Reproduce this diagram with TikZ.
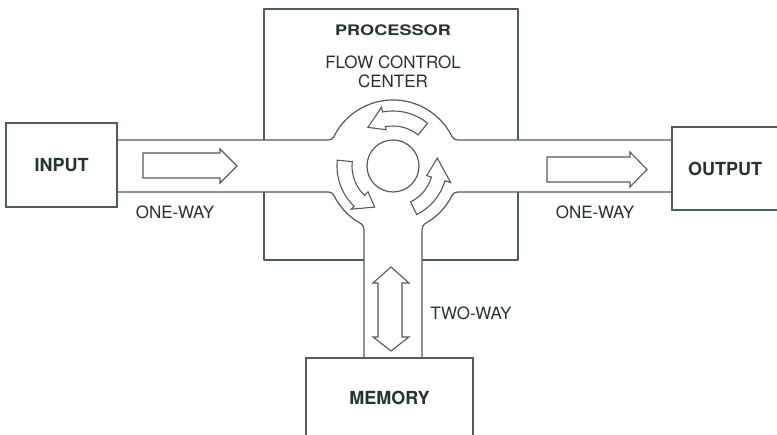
\documentclass[tikz,border=0pt]{standalone}
\usepackage{fontspec}
\setmainfont{TeX Gyre Heros}
\definecolor{ink}{RGB}{78,94,80}
\definecolor{txt}{RGB}{36,52,40}
\tikzset{
  wall/.style={draw=ink, line width=1.2pt, line join=round},
  unitbox/.style={draw=ink, line width=1.2pt, fill=none, inner sep=0pt,
    font=\fontsize{18}{20}\selectfont\bfseries, text=txt},
  lbl/.style={font=\fontsize{17}{20}\selectfont, text=txt, inner sep=0pt},
  flowarrow/.style={draw=ink, line width=1.1pt, fill=white, line join=miter},
}
\begin{document}
\begin{tikzpicture}[x=1pt,y=1pt]
\useasboundingbox (0,0) rectangle (777,435);

% units attached to the processor
\node[unitbox, minimum width=111pt, minimum height=84pt] (input) at (61.5,270) {INPUT};
\node[unitbox, minimum width=106pt, minimum height=83pt] (output) at (725,266.5) {OUTPUT};
\node[unitbox, minimum width=167pt, minimum height=79pt] (memory) at (389.5,37.5) {MEMORY};

% processor housing, open where the channels pass through
\draw[wall] (264,295) -- (264,426) -- (518,426) -- (518,295);
\draw[wall] (264,243) -- (264,175) -- (364,175);
\draw[wall] (422,175) -- (518,175) -- (518,243);

% channels and the central roundabout
\draw[wall] (input.east |- 0,295) -- (324,295) .. controls (332.3,295) .. (335.8,302)
  arc[start angle=150, end angle=30, radius=66pt]
  .. controls (453.7,295) .. (462,295) -- (output.west |- 0,295);
\draw[wall] (input.east |- 0,243) -- (324,243) .. controls (332.3,243) .. (335.8,236)
  arc[start angle=210, end angle=236, radius=66pt]
  .. controls (364,209.7) .. (364,201) -- (364,77);
\draw[wall] (422,77) -- (422,201) .. controls (422,209.7) .. (429.9,214.3)
  arc[start angle=304, end angle=330, radius=66pt]
  .. controls (453.7,243) .. (462,243) -- (output.west |- 0,243);

\node[draw=ink, line width=1.2pt, circle, minimum size=52pt, inner sep=0pt] (hub) at (393,269) {};

% circulating arrows around the hub (counter-clockwise)
\begin{scope}[shift={(393,269)}]
  \draw[flowarrow] (51:55pt) arc[start angle=51, end angle=101, radius=55pt]
    -- (101:60pt) -- (123:46pt) -- (101:37pt) -- (101:40pt)
    arc[start angle=101, end angle=51, radius=40pt] -- cycle;
  \draw[flowarrow] (174:56pt) arc[start angle=174, end angle=226, radius=56pt]
    -- (226:60pt) -- (246:45pt) -- (226:36pt) -- (226:41pt)
    arc[start angle=226, end angle=174, radius=41pt] -- cycle;
  \draw[flowarrow] (296:54pt) arc[start angle=296, end angle=344, radius=54pt]
    -- (344:60pt) -- (370:45pt) -- (344:35pt) -- (344:40pt)
    arc[start angle=344, end angle=296, radius=40pt] -- cycle;
\end{scope}

% straight flow arrows in the channels
\draw[flowarrow] (143,282) -- (220,282) -- (220,286) -- (237,269) -- (220,252)
  -- (220,257) -- (143,257) -- cycle;
\draw[flowarrow] (547,278) -- (630,278) -- (630,283) -- (647,265.5) -- (630,248)
  -- (630,253) -- (547,253) -- cycle;
\draw[flowarrow] (378,152) -- (373,152) -- (391,168) -- (409,152) -- (402,152)
  -- (402,98) -- (409,98) -- (391,84) -- (373,98) -- (378,98) -- cycle;

% labels
\node[font=\fontsize{14.5}{16}\selectfont\bfseries, text=txt, inner sep=0pt] (proc) at (393,405)
  {\scalebox{1.25}[1]{PROCESSOR}};
\node[lbl, align=center] (fcc) at (393,363) {FLOW CONTROL\\[-1pt]CENTER};
\node[lbl] (owin) at (175,223) {ONE-WAY};
\node[lbl] (owout) at (595,223) {ONE-WAY};
\node[lbl] (tw) at (471,122) {TWO-WAY};
\end{tikzpicture}
\end{document}
